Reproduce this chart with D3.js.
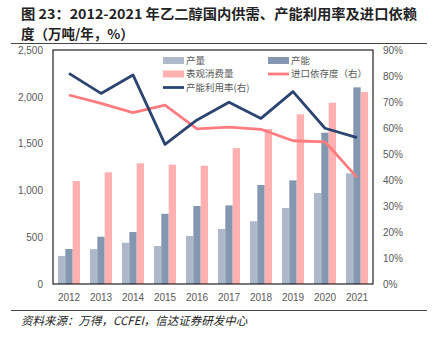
<!DOCTYPE html>
<html>
<head>
<meta charset="utf-8">
<script src="https://cdn.jsdelivr.net/npm/d3@7"></script>
<style>
  html, body { margin: 0; padding: 0; background: #fff; }
  svg { display: block; }
</style>
</head>
<body>
<script>
// data
const years = ["2012", "2013", "2014", "2015", "2016", "2017", "2018", "2019", "2020", "2021"];
const output = [300, 372, 441, 406, 513, 588, 670, 812, 972, 1182];          // 产量
const capacity = [374, 505, 555, 750, 833, 840, 1058, 1107, 1617, 2101];   // 产能
const consumption = [1100, 1193, 1289, 1275, 1264, 1452, 1656, 1813, 1937, 2051]; // 表观消费量
const importDep = [72.7, 69.5, 65.9, 68.8, 59.7, 60.3, 59.5, 55.1, 54.7, 41.0];  // 进口依存度（右）
const utilRate = [81.0, 73.3, 80.4, 53.7, 63.1, 69.9, 63.7, 74.0, 59.9, 56.3];   // 产能利用率（右）
const leftTicks = [0, 500, 1000, 1500, 2000, 2500];
const rightTicks = [0, 10, 20, 30, 40, 50, 60, 70, 80, 90];

const barSeries = [
    { name: "产量", values: output, color: "#adb9ca" },
    { name: "产能", values: capacity, color: "#8497b0" },
    { name: "表观消费量", values: consumption, color: "#ffb1b1" }
];

const width = 439, height = 343;
const plot = { left: 53, right: 373, top: 50, bottom: 284 };
const cjk = "'Noto Sans CJK SC', 'Noto Sans', sans-serif";
const latin = "'Liberation Sans', Arial, sans-serif";

const svg = d3.select("body").append("svg")
    .attr("width", width)
    .attr("height", height);

// title
const title = svg.append("g")
    .attr("font-family", cjk)
    .attr("font-weight", "bold")
    .attr("font-size", 13.5)
    .attr("fill", "#222");
title.append("text")
    .attr("x", 21).attr("y", 19)
    .attr("textLength", 396)
    .attr("lengthAdjust", "spacingAndGlyphs")
    .text("图 23：2012-2021 年乙二醇国内供需、产能利用率及进口依赖");
title.append("text")
    .attr("x", 21).attr("y", 38.5)
    .text("度（万吨/年，%）");

// rules above and below the chart
svg.append("line")
    .attr("x1", 11).attr("x2", 427).attr("y1", 43.5).attr("y2", 43.5)
    .attr("stroke", "#444").attr("stroke-width", 1);
svg.append("line")
    .attr("x1", 11).attr("x2", 427).attr("y1", 310.5).attr("y2", 310.5)
    .attr("stroke", "#444").attr("stroke-width", 1);

// scales
const x0 = d3.scaleBand()
    .domain(years)
    .range([plot.left, plot.right])
    .paddingInner(0.31)
    .paddingOuter(0.155);
const x1 = d3.scaleBand()
    .domain(barSeries.map(d => d.name))
    .range([0, x0.bandwidth()]);
const yL = d3.scaleLinear().domain([0, 2500]).range([plot.bottom, plot.top]);
const yR = d3.scaleLinear().domain([0, 90]).range([plot.bottom, plot.top]);

// bars
barSeries.forEach(s => {
    svg.append("g")
        .attr("fill", s.color)
        .selectAll("rect")
        .data(years)
        .join("rect")
        .attr("x", (d, i) => x0(d) + x1(s.name))
        .attr("y", (d, i) => yL(s.values[i]))
        .attr("width", x1.bandwidth())
        .attr("height", (d, i) => yL(0) - yL(s.values[i]));
});

// lines
const cx = d => x0(d) + x0.bandwidth() / 2;
const lineR = d3.line()
    .x((d, i) => cx(years[i]))
    .y(d => yR(d));
svg.append("path")
    .datum(importDep)
    .attr("fill", "none")
    .attr("stroke", "#ff7c80")
    .attr("stroke-width", 2.8)
    .attr("stroke-linejoin", "round")
    .attr("d", lineR);
svg.append("path")
    .datum(utilRate)
    .attr("fill", "none")
    .attr("stroke", "#2c4470")
    .attr("stroke-width", 2.8)
    .attr("stroke-linejoin", "round")
    .attr("d", lineR);

// plot frame
svg.append("rect")
    .attr("x", plot.left).attr("y", plot.top)
    .attr("width", plot.right - plot.left)
    .attr("height", plot.bottom - plot.top)
    .attr("fill", "none")
    .attr("stroke", "#222")
    .attr("stroke-width", 1.2);

// axes
const fmtL = d3.format(",");
const axisL = svg.append("g")
    .attr("transform", `translate(${plot.left},0)`)
    .call(d3.axisLeft(yL).tickValues(leftTicks).tickFormat(fmtL).tickSize(0).tickPadding(10));
const axisR = svg.append("g")
    .attr("transform", `translate(${plot.right},0)`)
    .call(d3.axisRight(yR).tickValues(rightTicks).tickFormat(d => d + "%").tickSize(0).tickPadding(10));
const axisB = svg.append("g")
    .attr("transform", `translate(0,${plot.bottom})`)
    .call(d3.axisBottom(x0).tickSize(0).tickPadding(10));
[axisL, axisR, axisB].forEach(a => {
    a.select(".domain").remove();
    a.selectAll("text")
        .attr("font-family", latin)
        .attr("font-size", 10)
        .attr("fill", "#595959");
});

// legend
const legendItems = [
    { name: "产量", type: "bar", color: "#adb9ca", x: 163, y: 60.5 },
    { name: "产能", type: "bar", color: "#8497b0", x: 268, y: 60.5 },
    { name: "表观消费量", type: "bar", color: "#ffb1b1", x: 163, y: 74 },
    { name: "进口依存度（右）", type: "line", color: "#ff7c80", x: 268, y: 74 },
    { name: "产能利用率(右)", type: "line", color: "#2c4470", x: 163, y: 87.5 }
];
const legend = svg.append("g")
    .selectAll("g")
    .data(legendItems)
    .join("g")
    .attr("transform", d => `translate(${d.x},${d.y})`);
legend.filter(d => d.type === "bar").append("rect")
    .attr("x", 0).attr("y", -3.5)
    .attr("width", 21).attr("height", 7)
    .attr("fill", d => d.color);
legend.filter(d => d.type === "line").append("line")
    .attr("x1", 0).attr("x2", 21)
    .attr("stroke", d => d.color)
    .attr("stroke-width", 2.8);
legend.append("text")
    .attr("x", 23)
    .attr("dy", "0.35em")
    .attr("font-family", cjk)
    .attr("font-size", 9.5)
    .attr("fill", "#595959")
    .text(d => d.name);

// source note
svg.append("text")
    .attr("x", 21).attr("y", 325)
    .attr("font-family", cjk)
    .attr("font-style", "italic")
    .attr("font-size", 11.5)
    .attr("fill", "#222")
    .text("资料来源：万得，CCFEI，信达证券研发中心");
</script>
</body>
</html>
